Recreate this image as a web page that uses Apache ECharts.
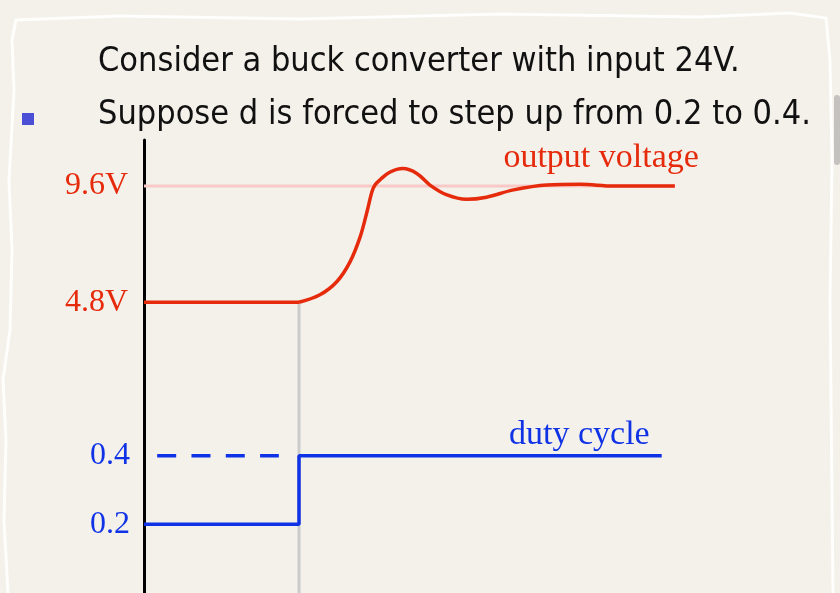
<!DOCTYPE html>
<html>
<head>
<meta charset="utf-8">
<title>buck converter step in d</title>
<script src="https://cdn.jsdelivr.net/npm/echarts@6/dist/echarts.min.js"></script>
<style>
  html, body { margin: 0; padding: 0; background: #f4f1ea; }
  #chart { width: 840px; height: 593px; }
</style>
</head>
<body>
<div id="chart"></div>
<script>
// time is in arbitrary units, d steps at tStep
const tStep = 2;
const tMax = 8;

// output voltage (V)
const tOut = [2, 2.27, 2.49, 2.66, 2.79, 2.88, 2.94, 2.98, 3.05, 3.17, 3.34, 3.52, 3.69, 3.91, 4.16, 4.42, 4.77, 5.20, 5.63, 6.06, 6.85];
const vOut = [4.8, 5.11, 5.66, 6.48, 7.51, 8.57, 9.35, 9.64, 9.87, 10.17, 10.32, 10.12, 9.64, 9.23, 9.05, 9.14, 9.44, 9.64, 9.67, 9.60, 9.60];
const vBefore = 4.8;
const vFinal = 9.6;

// duty cycle
const tDuty = [0, 2, 2, 6.68];
const dDuty = [0.2, 0.2, 0.4, 0.4];
const tDash = [0.17, 1.74];
const dDash = [0.4, 0.4];

const voltTicks = [4.8, 9.6];
const dutyTicks = [0.2, 0.4];
const voltMin = -7.2, voltMax = 11.5;
const dutyMin = 0, dutyMax = 1.32;

const RED = '#e62a0c';
const BLUE = '#0f32e6';
const serif = 'Liberation Serif';
const sans = '34px "DejaVu Sans Condensed", "DejaVu Sans"';

const zip = (xs, ys) => xs.map((x, i) => [x, ys[i]]);

// put a label on the last point only
function withEndLabel(pts, label) {
  return pts.map((p, i) => i === pts.length - 1 ? { value: p, label: label } : p);
}

const myChart = echarts.init(document.getElementById('chart'));
myChart.setOption({
  backgroundColor: '#f4f1ea',
  animation: false,
  graphic: [
    // torn paper edges
    { type: 'polyline', silent: true, z: -10,
      shape: { points: [[8, 593], [4, 520], [6, 440], [3, 380], [10, 330], [12, 250], [9, 180], [14, 90], [12, 40], [16, 20], [120, 16], [300, 19], [500, 14], [700, 17], [790, 13], [826, 18], [830, 60], [832, 160], [830, 300], [833, 593]] },
      style: { stroke: '#ffffff', lineWidth: 3, fill: null, opacity: 0.9 } },
    { type: 'rect', silent: true, z: -10,
      shape: { x: 834, y: 95, width: 6, height: 70, r: 3 },
      style: { fill: '#9a9a9a', opacity: 0.55 } },
    { type: 'rect', silent: true, z: -5,
      shape: { x: 22, y: 113, width: 12, height: 12 },
      style: { fill: '#4a4fd6' } },
    { type: 'text', x: 98, y: 62, silent: true,
      style: { text: 'Consider a buck converter with input 24V.', fill: '#111111',
        font: sans, textVerticalAlign: 'middle' } },
    { type: 'text', x: 98, y: 115, silent: true,
      style: { text: 'Suppose d is forced to step up from 0.2 to 0.4.', fill: '#111111',
        font: sans, textVerticalAlign: 'middle' } }
  ],
  grid: { left: 144, top: 140, width: 620, height: 456 },
  xAxis: {
    type: 'value', min: 0, max: tMax, show: false
  },
  yAxis: [
    {
      type: 'value', min: voltMin, max: voltMax, position: 'left',
      axisLine: { show: true, lineStyle: { color: '#000000', width: 3 } },
      axisTick: { show: false },
      splitLine: { show: false },
      axisLabel: {
        customValues: voltTicks,
        formatter: v => v.toFixed(1) + 'V',
        color: RED, fontFamily: serif, fontSize: 32, margin: 16,
        padding: [5, 0, 0, 0]
      }
    },
    {
      type: 'value', min: dutyMin, max: dutyMax, position: 'left', offset: 0,
      axisLine: { show: false },
      axisTick: { show: false },
      splitLine: { show: false },
      axisLabel: {
        customValues: dutyTicks,
        formatter: v => v.toFixed(1),
        color: BLUE, fontFamily: serif, fontSize: 32, margin: 14,
        padding: [5, 0, 0, 0]
      }
    }
  ],
  series: [
    {
      name: 'final value', type: 'line', yAxisIndex: 0, z: 1,
      showSymbol: false, silent: true,
      lineStyle: { color: '#f8c9c6', width: 3 },
      data: [[0, vFinal], [tOut[tOut.length - 1], vFinal]]
    },
    {
      name: 'step time', type: 'line', yAxisIndex: 0, z: 1,
      showSymbol: false, silent: true,
      lineStyle: { color: '#cccccc', width: 3 },
      data: [[tStep, vBefore], [tStep, voltMin]]
    },
    {
      name: 'output voltage', type: 'line', yAxisIndex: 0, z: 3,
      showSymbol: false, silent: true,
      lineStyle: { color: RED, width: 3.5 },
      data: [[0, vBefore], [tStep, vBefore]]
    },
    {
      name: 'output voltage', type: 'line', yAxisIndex: 0, z: 3,
      smooth: 0.35, symbol: 'circle', symbolSize: 0, showSymbol: true, silent: true,
      lineStyle: { color: RED, width: 3.5 },
      itemStyle: { color: RED },
      label: { show: false },
      data: withEndLabel(zip(tOut, vOut), {
        show: true, formatter: '{a}', position: 'top', distance: 0,
        align: 'right', verticalAlign: 'bottom', offset: [24, -11],
        color: RED, fontFamily: serif, fontSize: 34
      })
    },
    {
      name: 'duty cycle', type: 'line', yAxisIndex: 1, z: 3,
      symbol: 'circle', symbolSize: 0, showSymbol: true, silent: true,
      lineStyle: { color: BLUE, width: 3.5 },
      itemStyle: { color: BLUE },
      label: { show: false },
      data: withEndLabel(zip(tDuty, dDuty), {
        show: true, formatter: '{a}', position: 'top', distance: 0,
        align: 'right', verticalAlign: 'bottom', offset: [-12, -4],
        color: BLUE, fontFamily: serif, fontSize: 34
      })
    },
    {
      name: 'duty cycle before', type: 'line', yAxisIndex: 1, z: 3,
      showSymbol: false, silent: true,
      lineStyle: { color: BLUE, width: 3.5, type: [19, 15.3] },
      data: zip(tDash, dDash)
    }
  ]
});
</script>
</body>
</html>
